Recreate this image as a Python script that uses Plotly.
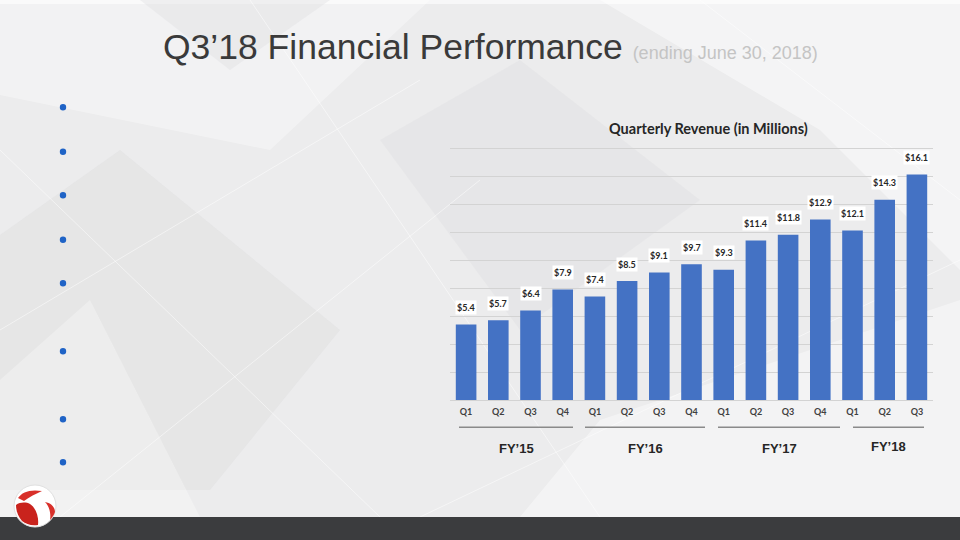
import plotly.graph_objects as go

# ---- data ----
quarters = ["Q1", "Q2", "Q3", "Q4", "Q1", "Q2", "Q3", "Q4", "Q1", "Q2", "Q3", "Q4", "Q1", "Q2", "Q3"]
revenue = [5.4, 5.7, 6.4, 7.9, 7.4, 8.5, 9.1, 9.7, 9.3, 11.4, 11.8, 12.9, 12.1, 14.3, 16.1]
fiscal_years = ["FY’15", "FY’16", "FY’17", "FY’18"]
fy_quarter_counts = [4, 4, 4, 3]
value_labels = [f"${v:.1f}" for v in revenue]

# ---- layout helpers (pixel -> paper) ----
W, H = 960, 540
def px(x):
    return x / W
def py(y):
    return 1 - y / H

def conv_path(cmds):
    out = []
    for c in cmds:
        if isinstance(c, str):
            out.append(c)
        else:
            out.append(f"{px(c[0]):.5f},{py(c[1]):.5f}")
    s = " ".join(out)
    for k in "MLCQ":
        s = s.replace(k + " ", k)
    return s.replace(" Z", "Z")

x_idx = list(range(len(quarters)))
Y_MAX = 18.1
PX_PER_UNIT = 14.0
plot_bottom_px = 400
plot_top_px = plot_bottom_px - Y_MAX * PX_PER_UNIT

fig = go.Figure()
fig.add_trace(go.Bar(
    x=x_idx, y=revenue, marker=dict(color="#4472c4", line=dict(width=0)),
    width=0.64, hoverinfo="skip", showlegend=False,
))

shapes = []
# background polygons
bg_polys = [
    ([(0, 0), (960, 0), (960, 4), (0, 4)], "#ffffff", 0.6),
    ([(0, 0), (430, 0), (270, 150), (0, 95)], "#ffffff", 0.35),
    ([(600, 0), (960, 0), (960, 270), (820, 130)], "#ffffff", 0.45),
    ([(0, 235), (120, 150), (340, 330), (210, 490), (0, 490)], "#d2d2d4", 0.25),
    ([(380, 140), (520, 60), (700, 200), (520, 330)], "#d4d4d6", 0.20),
    ([(600, 420), (960, 300), (960, 517), (520, 517)], "#ffffff", 0.40),
    ([(140, 0), (330, 0), (230, 70)], "#d8d8da", 0.30),
    ([(0, 380), (90, 300), (200, 517), (0, 517)], "#ffffff", 0.30),
]
for pts, col, op in bg_polys:
    cmds = ["M", pts[0]]
    for p in pts[1:]:
        cmds += ["L", p]
    cmds.append("Z")
    shapes.append(dict(type="path", xref="paper", yref="paper", path=conv_path(cmds),
                       fillcolor=col, opacity=op, line=dict(width=0), layer="below"))

# faint network lines
net_lines = [((0, 330), (420, 80)), ((60, 517), (480, 180)), ((250, 0), (600, 517)),
             ((700, 0), (960, 200)), ((0, 150), (380, 517)), ((420, 517), (960, 260))]
for (a, b) in net_lines:
    shapes.append(dict(type="line", xref="paper", yref="paper", x0=px(a[0]), y0=py(a[1]),
                       x1=px(b[0]), y1=py(b[1]), line=dict(color="#ffffff", width=1),
                       opacity=0.5, layer="below"))

# bottom dark bar
shapes.append(dict(type="rect", xref="paper", yref="paper", x0=0, x1=1, y0=0, y1=py(517),
                   fillcolor="#3b3c3e", line=dict(width=0), layer="above"))
# logo
shapes.append(dict(type="circle", xref="paper", yref="paper", x0=px(14), x1=px(56),
                   y0=py(527), y1=py(485), fillcolor="#ffffff",
                   line=dict(color="#e0e0e0", width=1), layer="above"))
logo_paths = [
    (["M", (18, 498), "C", (22, 492), (30, 489), (42, 491), "C", (36, 494), (29, 497), (24, 501),
      "C", (22, 500), (20, 499), (18, 498), "Z"], "#d8302a"),
    (["M", (16, 505), "C", (20, 502), (26, 502), (30, 504), "C", (36, 508), (39, 517), (38, 525),
      "C", (31, 526), (26, 524), (22, 521), "C", (18, 516), (16, 511), (16, 505), "Z"], "#c9231d"),
    (["M", (45, 502), "C", (51, 503), (55, 507), (55, 512), "C", (54, 515), (52, 518), (50, 520),
      "C", (51, 515), (50, 507), (45, 502), "Z"], "#d8302a"),
]
for lp, col in logo_paths:
    shapes.append(dict(type="path", xref="paper", yref="paper", path=conv_path(lp),
                       fillcolor=col, line=dict(width=0), layer="above"))

# bullets
bullet_y = [107.3, 151.7, 195.3, 239.7, 283.3, 351.3, 419.3, 462.3]
for by in bullet_y:
    shapes.append(dict(type="circle", xref="paper", yref="paper",
                       x0=px(63 - 3.2), x1=px(63 + 3.2), y0=py(by + 3.2), y1=py(by - 3.2),
                       fillcolor="#1f63c6", line=dict(width=0), layer="above"))

# fiscal-year group lines (pixel extents)
fy_line_px = [(459, 573), (585, 705), (718, 840), (853, 924)]
fy_label_px = [(516, 448), (645, 448), (779, 448), (888, 446.5)]
for (a, b) in fy_line_px:
    shapes.append(dict(type="line", xref="paper", yref="paper", x0=px(a), x1=px(b),
                       y0=py(427.3), y1=py(427.3), line=dict(color="#8a8a8a", width=1.6),
                       layer="above"))

annotations = []
# title
annotations.append(dict(
    x=px(161), y=py(47), xref="paper", yref="paper", xanchor="left", yanchor="middle",
    showarrow=False,
    text="Q3’18 Financial Performance <span style='font-size:18px;fill:#c4c4c4;color:#c4c4c4'>(ending June 30, 2018)</span>",
    font=dict(family="Liberation Sans, Arial", size=35.5, color="#3a3a3a"),
))
# chart title
annotations.append(dict(
    x=px(708), y=py(128), xref="paper", yref="paper", xanchor="center", yanchor="middle",
    showarrow=False, text="<b>Quarterly Revenue (in Millions)</b>",
    font=dict(family="Lato, Open Sans", size=14.5, color="#262626"),
))
# value labels
for i, (v, t) in enumerate(zip(revenue, value_labels)):
    annotations.append(dict(
        x=i, y=v, xref="x", yref="y", text=f"<b>{t}</b>", showarrow=False,
        yanchor="middle", yshift=17, bgcolor="#ffffff", borderpad=1,
        font=dict(family="Lato, Open Sans", size=9, color="#262626"),
    ))
# FY labels
for lab, (lx, ly) in zip(fiscal_years, fy_label_px):
    annotations.append(dict(
        x=px(lx), y=py(ly), xref="paper", yref="paper", xanchor="center", yanchor="middle",
        showarrow=False, text=f"<b>{lab}</b>",
        font=dict(family="Liberation Sans, Arial", size=13, color="#262626"),
    ))

fig.update_layout(
    width=W, height=H,
    margin=dict(l=0, r=0, t=0, b=0),
    paper_bgcolor="#ececed", plot_bgcolor="rgba(0,0,0,0)",
    xaxis=dict(domain=[px(450), px(933)], range=[-0.5, len(quarters) - 0.5],
               tickvals=x_idx, ticktext=[f"<b>{q}</b>" for q in quarters],
               tickfont=dict(family="Lato, Open Sans", size=9, color="#404040"),
               showgrid=False, zeroline=False, showline=False, ticks="",
               ticklabelstandoff=5, fixedrange=True),
    yaxis=dict(domain=[py(plot_bottom_px), py(plot_top_px)], range=[0, Y_MAX], dtick=2,
               showgrid=True, gridcolor="#d3d3d3", gridwidth=1,
               zeroline=True, zerolinecolor="#d3d3d3", zerolinewidth=1,
               showticklabels=False, ticks="", fixedrange=True),
    shapes=shapes, annotations=annotations,
    showlegend=False,
)

fig.write_html("out.html", config={"displayModeBar": False},
               post_script="document.body.style.margin='0';document.body.style.overflow='hidden';")
